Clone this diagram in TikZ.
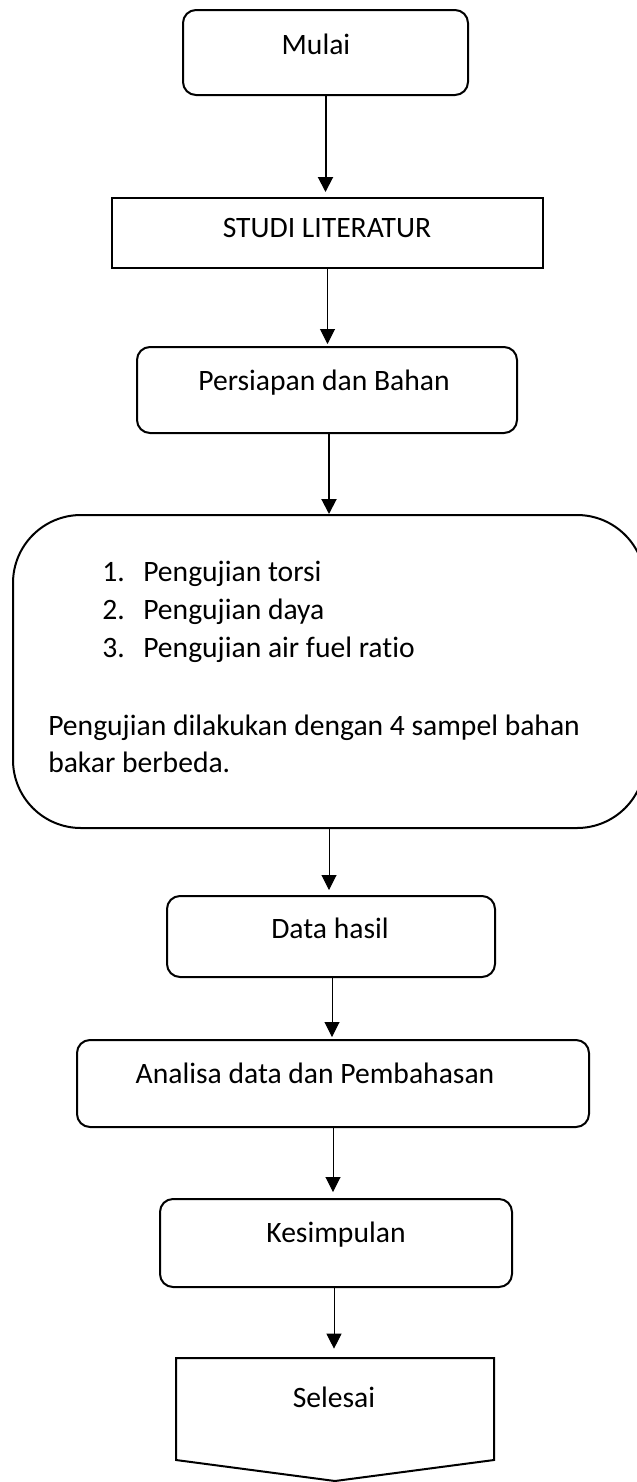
\documentclass[tikz,border=0pt]{standalone}
\usepackage{fontspec}
\setmainfont{Carlito}[Ligatures=NoCommon]
\usetikzlibrary{arrows.meta}
\begin{document}
\begin{tikzpicture}[x=0.75pt,y=-0.75pt,
  font=\fontsize{22.2pt}{27pt}\selectfont,
  box/.style={draw=black,line width=1.5pt,inner sep=0pt,rounded corners=9.75pt},
  sharpbox/.style={draw=black,line width=1.5pt,inner sep=0pt},
  txt/.style={inner sep=0pt,anchor=base},
  ltxt/.style={inner sep=0pt,anchor=base west},
  thickarrow/.style={line width=1.5pt,-{Triangle[width=11.25pt,length=11.25pt]}},
  thinarrow/.style={line width=0.75pt,-{Triangle[width=11.25pt,length=11.25pt]}}
]
\useasboundingbox (0,0) rectangle (636,1482);
\fill[white] (0,0) rectangle (636,1482);

% boxes
\node[box,minimum width=213.75pt,minimum height=63.75pt] (mulai) at (325.5,52.5) {};
\node[sharpbox,minimum width=323.25pt,minimum height=52.5pt] (studi) at (327.5,233) {};
\node[box,minimum width=285pt,minimum height=64.5pt] (persiapan) at (327,390) {};
\node[box,rounded corners=51pt,minimum width=474pt,minimum height=234.75pt] (uji) at (329,671.5) {};
\node[box,minimum width=246pt,minimum height=60.75pt] (data) at (331,936.5) {};
\node[box,minimum width=384pt,minimum height=65.25pt] (analisa) at (333,1083.5) {};
\node[box,minimum width=264pt,minimum height=66pt] (kesimpulan) at (336,1243) {};
\draw[line width=1.5pt,line join=miter] (176,1358) -- (494,1358) -- (494,1460) -- (335,1481) -- (176,1460) -- cycle;
\coordinate (selesai) at (334,1358);

% texts
\node[txt] (tmulai) at (316,54) {Mulai};
\node[txt] (tstudi) at (327,237) {STUDI LITERATUR};
\node[txt] (tpersiapan) at (324,390) {Persiapan dan Bahan};
\node[ltxt] (n1) at (102,581) {1.};
\node[ltxt] (l1) at (143,581) {Pengujian torsi};
\node[ltxt] (n2) at (102,619) {2.};
\node[ltxt] (l2) at (143,619) {Pengujian daya};
\node[ltxt] (n3) at (102,657) {3.};
\node[ltxt] (l3) at (143,657) {Pengujian air fuel ratio};
\node[ltxt] (p1) at (48,735) {Pengujian dilakukan dengan 4 sampel bahan};
\node[ltxt] (p2) at (48,772) {bakar berbeda.};
\node[txt] (tdata) at (330,938) {Data hasil};
\node[txt] (tanalisa) at (315,1083) {Analisa data dan Pembahasan};
\node[txt] (tkesimpulan) at (336,1242) {Kesimpulan};
\node[txt] (tselesai) at (334,1407) {Selesai};

% connectors
\draw[thickarrow] (mulai.south) -- ([yshift=3.75pt]mulai.south |- studi.north);
\draw[thinarrow] (studi.south) -- ([yshift=1.5pt]studi.south |- persiapan.north);
\draw[thickarrow] ([xshift=1.5pt]persiapan.south) -- ([xshift=1.5pt]persiapan.south |- uji.north);
\draw[thinarrow] (uji.south) -- ([yshift=3.75pt]uji.south |- data.north);
\draw[thinarrow] ([xshift=0.75pt]data.south) -- ([xshift=0.75pt,yshift=1.5pt]data.south |- analisa.north);
\draw[thinarrow] (analisa.south) -- ([yshift=4.5pt]analisa.south |- kesimpulan.north);
\draw[thinarrow] ([xshift=-1.5pt]kesimpulan.south) -- ([xshift=-1.5pt,yshift=7pt]kesimpulan.south |- selesai);
\end{tikzpicture}
\end{document}
